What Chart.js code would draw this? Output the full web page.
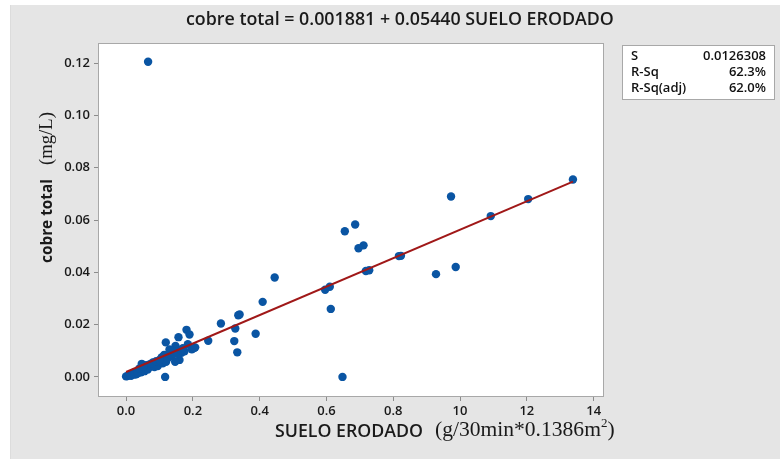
<!DOCTYPE html>
<html>
<head>
<meta charset="utf-8">
<script src="https://cdn.jsdelivr.net/npm/chart.js@4.4.1/dist/chart.umd.min.js"></script>
<style>
html,body{margin:0;padding:0;background:#fff;}
#wrap{width:780px;height:459px;}
</style>
</head>
<body>
<div id="wrap"><canvas id="myChart" width="780" height="459"></canvas></div>
<script>
// data
var sueloErodado = [
  0.066, 1.338, 1.204, 0.973, 1.092, 0.987, 0.928, 0.817, 0.823, 0.728,
  0.718, 0.711, 0.696, 0.686, 0.655, 0.610, 0.596, 0.613, 0.648, 0.445,
  0.409, 0.340, 0.336, 0.284, 0.327, 0.388, 0.324, 0.333, 0.246, 0.181,
  0.190, 0.157, 0.119, 0.185, 0.207, 0.197, 0.204, 0.148, 0.138, 0.152,
  0.166, 0.175, 0.160, 0.147, 0.114, 0.107, 0.047, 0.117,
  0.000, 0.004, 0.008, 0.012, 0.016, 0.020, 0.024, 0.028, 0.032, 0.036,
  0.040, 0.044, 0.050, 0.055, 0.060, 0.065, 0.070, 0.075, 0.080, 0.085,
  0.090, 0.095, 0.100, 0.105, 0.110, 0.120, 0.125, 0.130, 0.135, 0.140,
  0.145, 0.155, 0.165, 0.170, 0.130, 0.060, 0.070, 0.080, 0.030, 0.045,
  0.055, 0.065, 0.085, 0.095, 0.110, 0.120, 0.015, 0.025, 0.035,
  0.040, 0.052, 0.075, 0.090, 0.100
];
var cobreTotal = [
  0.1205, 0.0755, 0.0680, 0.0690, 0.0615, 0.0420, 0.0393, 0.0462, 0.0463, 0.0408,
  0.0405, 0.0503, 0.0492, 0.0583, 0.0557, 0.0345, 0.0333, 0.0260, 0.0000, 0.0380,
  0.0287, 0.0239, 0.0236, 0.0204, 0.0185, 0.0165, 0.0137, 0.0094, 0.0138, 0.0180,
  0.0162, 0.0152, 0.0132, 0.0125, 0.0113, 0.0106, 0.0110, 0.0118, 0.0100, 0.0095,
  0.0092, 0.0098, 0.0065, 0.0058, 0.0084, 0.0075, 0.0050, 0.0000,
  0.0002, 0.0003, 0.0006, 0.0008, 0.0011, 0.0012, 0.0016, 0.0018, 0.0020, 0.0021,
  0.0025, 0.0026, 0.0029, 0.0031, 0.0034, 0.0036, 0.0039, 0.0041, 0.0044, 0.0046,
  0.0050, 0.0052, 0.0055, 0.0058, 0.0062, 0.0068, 0.0072, 0.0078, 0.0082, 0.0086,
  0.0090, 0.0088, 0.0102, 0.0110, 0.0105, 0.0045, 0.0048, 0.0055, 0.0010, 0.0018,
  0.0022, 0.0028, 0.0038, 0.0042, 0.0052, 0.0058, 0.0004, 0.0009, 0.0014,
  0.0032, 0.0040, 0.0050, 0.0060, 0.0065
];
// regression line ends (cobre total = 0.001881 + 0.05440 SUELO ERODADO)
var fitX = [0.000, 1.338];
var fitY = [0.00188, 0.07467];

var xTicks = [0, 0.2, 0.4, 0.6, 0.8, 1.0, 1.2, 1.4];
var xTickLabels = ["0.0", "0.2", "0.4", "0.6", "0.8", "10", "12", "14"];
var yTicks = [0, 0.02, 0.04, 0.06, 0.08, 0.10, 0.12];
var yTickLabels = ["0.00", "0.02", "0.04", "0.06", "0.08", "0.10", "0.12"];

var titulo = "cobre total = 0.001881 + 0.05440 SUELO ERODADO";
var statNames = ["S", "R-Sq", "R-Sq(adj)"];
var statValues = ["0.0126308", "62.3%", "62.0%"];

var puntos = sueloErodado.map(function(v, i){ return {x: v, y: cobreTotal[i]}; });
var linea = fitX.map(function(v, i){ return {x: v, y: fitY[i]}; });

// pick a font size so text fills a given width
function fitFont(ctx, txt, weight, family, w){
  ctx.font = weight + " 20px " + family;
  var s = 20 * w / ctx.measureText(txt).width;
  return weight + " " + s.toFixed(2) + "px " + family;
}

var marco = {
  id: 'marco',
  beforeDraw: function(chart){
    var c = chart.ctx, a = chart.chartArea;
    c.save();
    c.fillStyle = '#fff';
    c.fillRect(0, 0, chart.width, chart.height);
    c.fillStyle = '#e5e5e5';
    c.fillRect(10, 5, chart.width - 10, chart.height - 5);
    c.fillStyle = '#dcdcdc';
    c.fillRect(10, 5, 1, chart.height - 5);
    c.fillStyle = '#fff';
    c.fillRect(a.left, a.top, a.right - a.left, a.bottom - a.top);
    c.restore();
  },
  afterDraw: function(chart){
    var c = chart.ctx, a = chart.chartArea;
    c.save();
    c.strokeStyle = '#a8a8a8';
    c.lineWidth = 1;
    c.strokeRect(a.left - 0.5, a.top - 0.5, a.right - a.left + 1, a.bottom - a.top + 1);

    // title
    c.fillStyle = '#1a1a1a';
    c.textBaseline = 'middle';
    c.textAlign = 'left';
    c.font = fitFont(c, titulo, '600', '"Open Sans"', 428);
    c.fillText(titulo, 186, 20);

    // x axis label
    c.textBaseline = 'alphabetic';
    c.font = fitFont(c, "SUELO ERODADO", '600', '"Open Sans"', 148);
    c.fillText("SUELO ERODADO", 275, 437);
    var unX = "(g/30min*0.1386m";
    c.font = fitFont(c, unX, 'normal', '"Liberation Serif"', 166);
    c.fillText(unX, 435, 436);
    var w1 = c.measureText(unX).width;
    var big = c.font;
    c.font = 'normal 13px "Liberation Serif"';
    c.fillText("2", 435 + w1, 427);
    var w2 = c.measureText("2").width;
    c.font = big;
    c.fillText(")", 435 + w1 + w2, 436);

    // y axis label
    c.translate(52, 187);
    c.rotate(-Math.PI / 2);
    var f1 = fitFont(c, "cobre total", 'bold', '"Open Sans"', 84);
    var f2 = fitFont(c, "(mg/L)", 'normal', '"Liberation Serif"', 53);
    c.font = f1;
    c.fillText("cobre total", -76, 0);
    c.font = f2;
    c.fillText("(mg/L)", 22, 0);
    c.setTransform(1, 0, 0, 1, 0, 0);

    // stats box
    c.fillStyle = '#fff';
    c.fillRect(622, 45, 153, 55);
    c.strokeStyle = '#a8a8a8';
    c.strokeRect(622.5, 45.5, 152, 54);
    c.fillStyle = '#111';
    c.font = '600 13px "Open Sans"';
    c.textBaseline = 'middle';
    for (var i = 0; i < statNames.length; i++) {
      c.textAlign = 'left';
      c.fillText(statNames[i], 631, 56 + i * 16);
      c.textAlign = 'right';
      c.fillText(statValues[i], 766, 56 + i * 16);
    }
    c.restore();
  }
};

var ctx = document.getElementById('myChart');
var chart = new Chart(ctx, {
  type: 'scatter',
  data: {
    datasets: [{
      type: 'line',
      data: linea,
      borderColor: '#a01818',
      borderWidth: 2,
      pointRadius: 0,
      fill: false
    }, {
      data: puntos,
      backgroundColor: '#0a55a3',
      borderColor: '#0a55a3',
      pointRadius: 4.2,
      pointBorderWidth: 0,
      pointHoverRadius: 4
    }]
  },
  options: {
    responsive: false,
    animation: false,
    events: [],
    layout: { padding: { left: 0, top: 44, right: 177, bottom: 0 } },
    plugins: {
      legend: { display: false },
      title: { display: false },
      tooltip: { enabled: false }
    },
    scales: {
      x: {
        type: 'linear',
        min: -0.081,
        max: 1.428,
        afterFit: function(s){ s.height = 63; },
        afterBuildTicks: function(s){ s.ticks = xTicks.map(function(v){ return {value: v}; }); },
        ticks: {
          padding: 2,
          color: '#1a1a1a',
          font: { family: '"Open Sans"', size: 13, weight: '600' },
          callback: function(v){ return xTickLabels[xTicks.indexOf(Math.round(v * 10) / 10)]; }
        },
        grid: { drawOnChartArea: false, drawTicks: true, tickLength: 5, color: '#8c8c8c' },
        border: { display: false }
      },
      y: {
        type: 'linear',
        min: -0.0073,
        max: 0.1273,
        afterFit: function(s){ s.width = 99; },
        afterBuildTicks: function(s){ s.ticks = yTicks.map(function(v){ return {value: v}; }); },
        ticks: {
          padding: 4,
          color: '#1a1a1a',
          font: { family: '"Open Sans"', size: 13, weight: '600' },
          callback: function(v){ return yTickLabels[yTicks.indexOf(Math.round(v * 100) / 100)]; }
        },
        grid: { drawOnChartArea: false, drawTicks: true, tickLength: 5, color: '#8c8c8c' },
        border: { display: false }
      }
    }
  },
  plugins: [marco]
});
</script>
</body>
</html>
